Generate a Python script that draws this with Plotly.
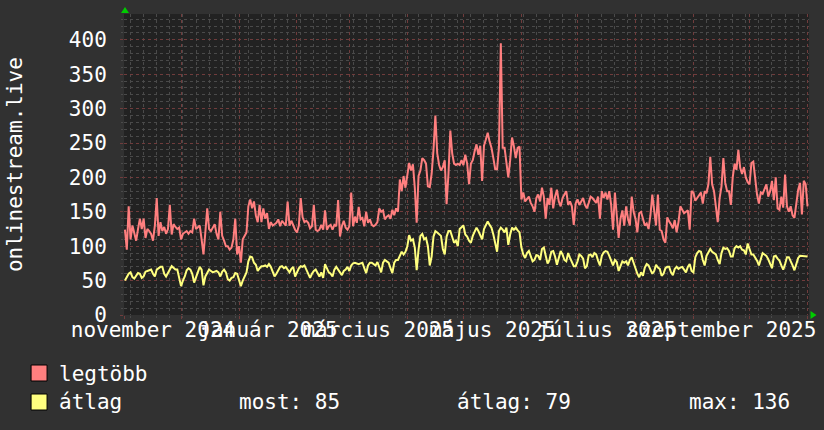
import plotly.graph_objects as go
import pandas as pd

# ---------------- data ----------------
start_date = "2024-11-01"

legtobb = [
    124, 95, 158, 110, 130, 120, 108, 125, 140, 125, 140, 112, 125, 122, 118, 108, 130, 170, 115, 135,
    122, 128, 118, 125, 160, 117, 132, 128, 125, 127, 110, 118, 120, 122, 118, 122, 120, 140, 125, 128,
    130, 110, 88, 120, 155, 125, 122, 127, 132, 118, 110, 150, 115, 108, 100, 100, 95, 98, 110, 140,
    88, 100,
    76, 110, 115, 120, 158, 168, 155, 165, 145, 135, 160, 135, 155, 140, 148, 125, 135, 130, 132, 134,
    139, 129, 137, 134, 130, 165, 130, 137, 129, 124, 120, 130, 170, 142, 135, 137, 134, 126, 129, 160,
    124, 122, 124, 131, 124, 152, 124, 129, 131, 124, 131, 129, 167, 114, 129, 137, 127, 124, 129, 178,
    129,
    143, 134, 157, 139, 141, 129, 150, 134, 139, 131, 129, 131, 135, 155, 150, 152, 139, 143, 145, 140,
    153, 145, 155, 150, 197, 180, 202, 185, 205, 221, 210, 219, 185, 134, 202, 210, 228, 225, 220, 187,
    186, 205, 240, 290, 235, 218, 210, 215, 225, 161, 205, 268, 235, 220, 218, 220, 218, 225, 218,
    233, 220, 190, 220, 225, 238, 248, 233, 246, 195, 246, 255, 265, 252, 243, 228, 212, 212, 243, 395,
    243, 243, 223, 200, 225, 258, 245, 228, 243, 245, 168, 178, 165, 168, 172, 163, 158, 150, 170, 175,
    165, 185, 172, 140, 170, 160, 185, 155, 172, 182, 165, 158, 170, 175, 180, 160, 165, 158, 131, 162,
    168, 160, 166, 170, 160, 155,
    163, 172, 170, 166, 163, 172, 140, 180, 170, 178, 168, 180, 160, 124, 178, 145, 112, 140, 152, 130,
    158, 140, 130, 172, 150, 140, 120, 148, 150, 140, 130, 133, 125, 145, 175, 152, 130, 175, 124, 122,
    110, 105, 142, 136, 132, 126, 138, 120, 135, 158, 152, 148, 150, 152, 124, 180, 178, 166, 170, 175,
    178,
    162, 180, 177, 190, 230, 190, 180, 160, 135, 170, 187, 228, 192, 180, 180, 160, 200, 220, 211, 240,
    214, 205, 215, 200, 193, 190, 221, 223, 195, 175, 162, 178, 176, 182, 190, 172, 180, 195, 167, 200,
    155, 153, 172, 156, 204, 158, 150, 158, 145, 141, 165, 182, 192, 146, 195, 190, 158,
]

atlag = [
    50, 55, 60, 62, 55, 53, 58, 61, 60, 54, 56, 63, 64, 65, 66, 60, 56, 66, 68, 70,
    70, 60, 56, 62, 66, 71, 69, 66, 66, 55, 42, 50, 56, 65, 68, 66, 60, 47, 55, 62,
    70, 66, 43, 56, 62, 66, 64, 62, 63, 64, 62, 56, 63, 66, 62, 52, 50, 54, 55, 61,
    60, 52,
    42, 50, 56, 62, 78, 85, 84, 76, 73, 64, 68, 71, 71, 72, 70, 74, 70, 64, 56, 60,
    66, 70, 71, 68, 70, 66, 62, 67, 70, 56, 62, 68, 71, 70, 72, 66, 58, 54, 60, 64,
    66, 60, 56, 62, 54, 74, 68, 62, 60, 56, 66, 70, 66, 62, 58, 64, 66, 70, 64, 72,
    75,
    76, 75, 74, 75, 76, 68, 61, 72, 76, 76, 74, 72, 77, 68, 62, 76, 80, 78, 76, 68,
    61, 76, 80, 80, 85, 92, 88, 92, 100, 116, 108, 110, 98, 65, 95, 115, 118, 110, 112, 100,
    72, 85, 114, 122, 120, 117, 115, 96, 88, 114, 122, 122, 113, 105, 108, 100, 125, 128, 130,
    117, 114, 108, 105, 115, 122, 127, 122, 117, 110, 125, 131, 136, 131, 127, 117, 103, 92, 122, 127,
    124, 120, 127, 102, 117, 127, 124, 127, 123, 120, 98, 88, 83, 90, 93, 86, 78, 80, 87, 86,
    80, 96, 98, 86, 75, 80, 92, 93, 85, 73, 83, 93, 88, 80, 78, 90, 83, 76, 71, 71,
    78, 88, 86, 82, 68, 71,
    87, 88, 84, 90, 88, 79, 72, 86, 91, 93, 92, 86, 79, 72, 80, 77, 64, 70, 78, 76,
    78, 72, 80, 84, 76, 66, 60, 55, 62, 57, 69, 74, 72, 66, 60, 64, 73, 69, 67, 57,
    60, 68, 70, 70, 62, 58, 67, 70, 67, 69, 70, 66, 62, 70, 74, 64, 62, 84, 90, 93,
    92,
    80, 72, 86, 92, 96, 92, 90, 88, 80, 74, 90, 98, 96, 97, 93, 85, 85, 97, 100, 98,
    100, 95, 94, 88, 104, 96, 88, 88, 84, 79, 72, 80, 90, 88, 86, 81, 73, 68, 85, 86,
    82, 79, 72, 66, 74, 84, 84, 79, 72, 65, 73, 83, 86, 86, 85, 86, 85,
]

label_months = ["2024-11", "2025-01", "2025-03", "2025-05", "2025-07", "2025-09"]
month_labels = ["november 2024", "január 2025", "március 2025", "május 2025",
                "július 2025", "szeptember 2025"]
y_tick_values = [0, 50, 100, 150, 200, 250, 300, 350, 400]
series_names = ["legtöbb", "átlag"]
legend_stats = ["most: 85", "átlag: 79", "max: 136"]
y_title = "onlinestream.live"

# ---------------- styling / layout helpers ----------------
W, H = 824, 430
L, R, T, B = 124, 14.5, 14, 115
PW, PH = W - L - R, H - T - B

def px(x):
    return (x - L) / PW

def py(y):
    return (H - B - y) / PH

FONT = "DejaVu Sans Mono"
FS = 21
WHITE = "#ffffff"
RED = "#ff7f7f"
YELLOW = "#ffff7f"
MAJOR_GRID = "#703c3c"
MINOR_GRID = "#4a4a4a"
Y_MAX = 437.5

dates = pd.date_range(start_date, periods=len(legtobb), freq="D")
x_start = pd.Timestamp(start_date) - pd.Timedelta(hours=12)
x_end = dates[-1] + pd.Timedelta(hours=19)

label_pos = []
for m in label_months:
    a = pd.Timestamp(m + "-01")
    b = a + pd.offsets.MonthBegin(1)
    label_pos.append(a + (b - a) / 2)

fig = go.Figure()
# helper (invisible) traces so that overlay axes get drawn
for xa, ya in [("x2", "y"), ("x3", "y"), ("x", "y2")]:
    fig.add_trace(go.Scatter(x=[x_start, x_end], y=[None, None], mode="lines",
                             showlegend=False, hoverinfo="skip", xaxis=xa, yaxis=ya))
fig.add_trace(go.Scatter(x=dates, y=legtobb, mode="lines", name=series_names[0],
                         line=dict(color=RED, width=2), xaxis="x", yaxis="y"))
fig.add_trace(go.Scatter(x=dates, y=atlag, mode="lines", name=series_names[1],
                         line=dict(color=YELLOW, width=2), xaxis="x", yaxis="y"))

common = dict(zeroline=False, showline=False, automargin=False, fixedrange=True)
fig.update_layout(
    width=W, height=H,
    margin=dict(l=L, r=R, t=T, b=B, pad=0, autoexpand=False),
    paper_bgcolor="#313131",
    plot_bgcolor="#222222",
    showlegend=False,
    font=dict(family=FONT, size=FS, color=WHITE),
    # weekly minor grid
    xaxis=dict(type="date", range=[x_start, x_end],
               dtick=7 * 24 * 3600 * 1000, tick0="2024-11-04",
               showgrid=True, gridcolor=MINOR_GRID, griddash="dot", gridwidth=1,
               showticklabels=False, ticks="outside", ticklen=2, tickcolor=MINOR_GRID,
               **common),
    # monthly major grid
    xaxis2=dict(type="date", range=[x_start, x_end], overlaying="x", side="bottom",
                anchor="y", dtick="M1", tick0=start_date,
                showgrid=True, gridcolor=MAJOR_GRID, griddash="dot", gridwidth=1,
                showticklabels=False, ticks="outside", ticklen=3, tickcolor=MAJOR_GRID,
                **common),
    # month labels
    xaxis3=dict(type="date", range=[x_start, x_end], overlaying="x", side="bottom",
                anchor="y", tickmode="array", tickvals=label_pos, ticktext=month_labels,
                tickangle=0, showgrid=False, ticks="",
                tickfont=dict(family=FONT, size=FS, color=WHITE), **common),
    # minor horizontal grid
    yaxis=dict(range=[0, Y_MAX], dtick=10, tick0=0,
               showgrid=True, gridcolor=MINOR_GRID, griddash="dot", gridwidth=1,
               showticklabels=False, ticks="outside", ticklen=2, tickcolor=MINOR_GRID,
               **common),
    # major horizontal grid + labels
    yaxis2=dict(range=[0, Y_MAX], overlaying="y", side="left", anchor="x",
                tickmode="array", tickvals=y_tick_values,
                showgrid=True, gridcolor=MAJOR_GRID, griddash="dot", gridwidth=1,
                ticks="outside", ticklen=3, tickcolor=MAJOR_GRID,
                tickfont=dict(family=FONT, size=FS, color=WHITE),
                ticklabelstandoff=9, **common),
)

annotations = [
    dict(text=y_title, x=px(15), y=py(165), xref="paper", yref="paper",
         textangle=-90, showarrow=False, xanchor="center", yanchor="middle",
         font=dict(family=FONT, size=FS, color=WHITE)),
    dict(text=series_names[0], x=px(57), y=py(374), xref="paper", yref="paper",
         showarrow=False, xanchor="left", yanchor="middle",
         font=dict(family=FONT, size=FS, color=WHITE)),
    dict(text=series_names[1], x=px(57), y=py(402), xref="paper", yref="paper",
         showarrow=False, xanchor="left", yanchor="middle",
         font=dict(family=FONT, size=FS, color=WHITE)),
]
for txt, xx in zip(legend_stats, [237, 455, 687]):
    annotations.append(dict(text=txt, x=px(xx), y=py(402), xref="paper", yref="paper",
                            showarrow=False, xanchor="left", yanchor="middle",
                            font=dict(family=FONT, size=FS, color=WHITE)))
fig.update_layout(annotations=annotations)

shapes = []
for color, (y0, y1) in [(RED, (365, 381)), (YELLOW, (394, 410))]:
    shapes.append(dict(type="rect", xref="paper", yref="paper",
                       x0=px(31), x1=px(47), y0=py(y1), y1=py(y0),
                       fillcolor=color, line=dict(color="#000000", width=1)))
# green axis arrows (decorations)
ax_x = 125
shapes.append(dict(type="path", xref="paper", yref="paper",
                   path=f"M {px(ax_x-4)} {py(13)} L {px(ax_x+4)} {py(13)} L {px(ax_x)} {py(7)} Z",
                   fillcolor="#00cc00", line=dict(color="#00cc00", width=0)))
shapes.append(dict(type="path", xref="paper", yref="paper",
                   path=f"M {px(811)} {py(311)} L {px(811)} {py(319)} L {px(817)} {py(315)} Z",
                   fillcolor="#00cc00", line=dict(color="#00cc00", width=0)))
fig.update_layout(shapes=shapes)

fig.write_html(
    "out.html",
    config={"displayModeBar": False, "staticPlot": False},
    post_script="document.body.style.margin='0';document.body.style.background='#313131';",
)
